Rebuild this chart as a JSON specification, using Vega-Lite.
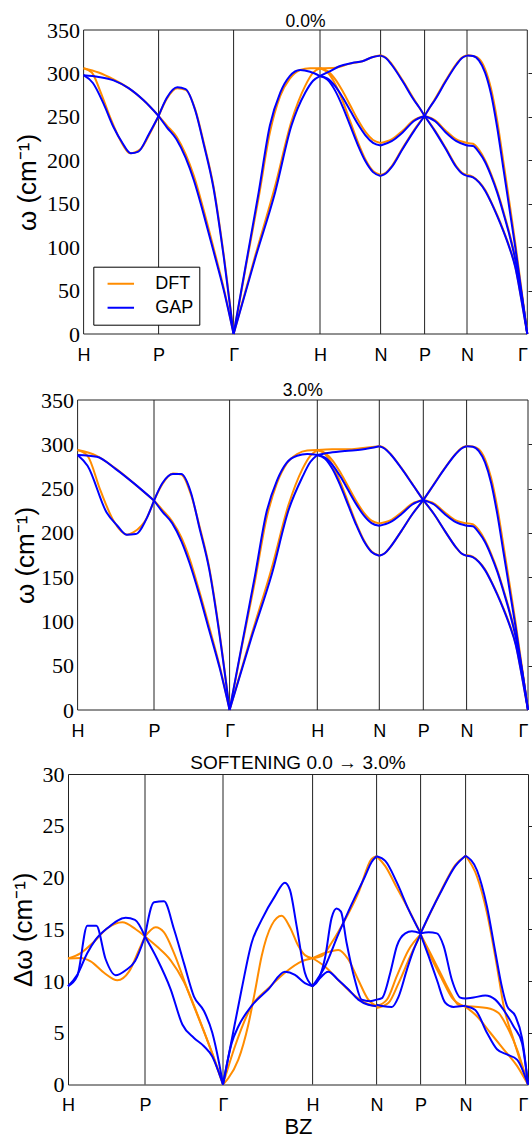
{
"$schema":"https://vega.github.io/schema/vega-lite/v6.json",
"padding":{"left":9,"top":12,"right":0,"bottom":0},
"background":"white",
"config":{"view":{"stroke":"#222","strokeWidth":1},"font":"Liberation Sans","axis":{"grid":false,"domain":false,"ticks":false,"tickSize":0,"labelColor":"#000","titleColor":"#000"}},
"datasets":{
"a":[
{"m":"DFT","c":1,"u":0,"w":306},{"m":"DFT","c":1,"u":0.2,"w":301},{"m":"DFT","c":1,"u":0.4,"w":293},{"m":"DFT","c":1,"u":0.6,"w":283},{"m":"DFT","c":1,"u":0.8,"w":269},{"m":"DFT","c":1,"u":1,"w":251},
{"m":"DFT","c":2,"u":0,"w":306},{"m":"DFT","c":2,"u":0.11,"w":301},{"m":"DFT","c":2,"u":0.22,"w":280},{"m":"DFT","c":2,"u":0.356,"w":249},{"m":"DFT","c":2,"u":0.49,"w":223},{"m":"DFT","c":2,"u":0.62,"w":208},{"m":"DFT","c":2,"u":0.76,"w":213},{"m":"DFT","c":2,"u":0.89,"w":232},{"m":"DFT","c":2,"u":1,"w":251},
{"m":"DFT","c":3,"u":1,"w":251},{"m":"DFT","c":3,"u":1.11,"w":271},{"m":"DFT","c":3,"u":1.25,"w":283},{"m":"DFT","c":3,"u":1.36,"w":281},{"m":"DFT","c":3,"u":1.49,"w":258},{"m":"DFT","c":3,"u":1.6,"w":221},{"m":"DFT","c":3,"u":1.73,"w":171},{"m":"DFT","c":3,"u":1.87,"w":90},{"m":"DFT","c":3,"u":2,"w":0},
{"m":"DFT","c":4,"u":1,"w":251},{"m":"DFT","c":4,"u":1.11,"w":240},{"m":"DFT","c":4,"u":1.24,"w":227},{"m":"DFT","c":4,"u":1.36,"w":207},{"m":"DFT","c":4,"u":1.47,"w":182},{"m":"DFT","c":4,"u":1.6,"w":143},{"m":"DFT","c":4,"u":1.73,"w":100},{"m":"DFT","c":4,"u":1.87,"w":52},{"m":"DFT","c":4,"u":2,"w":0},
{"m":"DFT","c":5,"u":2,"w":0},{"m":"DFT","c":5,"u":2.135,"w":74},{"m":"DFT","c":5,"u":2.29,"w":157},{"m":"DFT","c":5,"u":2.42,"w":232},{"m":"DFT","c":5,"u":2.54,"w":274},{"m":"DFT","c":5,"u":2.65,"w":294},{"m":"DFT","c":5,"u":2.77,"w":304},{"m":"DFT","c":5,"u":2.885,"w":306},{"m":"DFT","c":5,"u":3,"w":306},
{"m":"DFT","c":6,"u":2,"w":0},{"m":"DFT","c":6,"u":2.25,"w":90},{"m":"DFT","c":6,"u":2.48,"w":170},{"m":"DFT","c":6,"u":2.67,"w":245},{"m":"DFT","c":6,"u":2.83,"w":286},{"m":"DFT","c":6,"u":2.92,"w":301},{"m":"DFT","c":6,"u":3,"w":306},
{"m":"DFT","c":7,"u":3,"w":306},{"m":"DFT","c":7,"u":3.26,"w":306.6},{"m":"DFT","c":7,"u":3.48,"w":311},{"m":"DFT","c":7,"u":3.7,"w":314},{"m":"DFT","c":7,"u":3.86,"w":318.6},{"m":"DFT","c":7,"u":4,"w":321},
{"m":"DFT","c":8,"u":3,"w":306},{"m":"DFT","c":8,"u":3.125,"w":302.7},{"m":"DFT","c":8,"u":3.25,"w":293.4},{"m":"DFT","c":8,"u":3.375,"w":279.4},{"m":"DFT","c":8,"u":3.5,"w":263},{"m":"DFT","c":8,"u":3.625,"w":246.6},{"m":"DFT","c":8,"u":3.75,"w":232.6},{"m":"DFT","c":8,"u":3.875,"w":223.3},{"m":"DFT","c":8,"u":4,"w":220},
{"m":"DFT","c":9,"u":3,"w":306},{"m":"DFT","c":9,"u":3.125,"w":301.3},{"m":"DFT","c":9,"u":3.25,"w":288},{"m":"DFT","c":9,"u":3.375,"w":268},{"m":"DFT","c":9,"u":3.5,"w":244.5},{"m":"DFT","c":9,"u":3.625,"w":221},{"m":"DFT","c":9,"u":3.75,"w":201},{"m":"DFT","c":9,"u":3.875,"w":187.7},{"m":"DFT","c":9,"u":4,"w":183},
{"m":"DFT","c":10,"u":4,"w":321},{"m":"DFT","c":10,"u":4.125,"w":318},{"m":"DFT","c":10,"u":4.25,"w":311},{"m":"DFT","c":10,"u":4.5,"w":292},{"m":"DFT","c":10,"u":4.75,"w":271},{"m":"DFT","c":10,"u":4.875,"w":261},{"m":"DFT","c":10,"u":5,"w":251},
{"m":"DFT","c":11,"u":4,"w":220},{"m":"DFT","c":11,"u":4.25,"w":224},{"m":"DFT","c":11,"u":4.5,"w":234},{"m":"DFT","c":11,"u":4.75,"w":246},{"m":"DFT","c":11,"u":5,"w":251},
{"m":"DFT","c":12,"u":4,"w":183},{"m":"DFT","c":12,"u":4.125,"w":186},{"m":"DFT","c":12,"u":4.25,"w":193},{"m":"DFT","c":12,"u":4.5,"w":214},{"m":"DFT","c":12,"u":4.75,"w":234},{"m":"DFT","c":12,"u":5,"w":251},
{"m":"DFT","c":13,"u":5,"w":251},{"m":"DFT","c":13,"u":5.125,"w":261},{"m":"DFT","c":13,"u":5.25,"w":271},{"m":"DFT","c":13,"u":5.5,"w":292},{"m":"DFT","c":13,"u":5.75,"w":311},{"m":"DFT","c":13,"u":5.875,"w":318},{"m":"DFT","c":13,"u":6,"w":321},
{"m":"DFT","c":14,"u":5,"w":251},{"m":"DFT","c":14,"u":5.25,"w":246},{"m":"DFT","c":14,"u":5.5,"w":234},{"m":"DFT","c":14,"u":5.75,"w":224},{"m":"DFT","c":14,"u":6,"w":220},
{"m":"DFT","c":15,"u":5,"w":251},{"m":"DFT","c":15,"u":5.25,"w":234},{"m":"DFT","c":15,"u":5.5,"w":214},{"m":"DFT","c":15,"u":5.75,"w":193},{"m":"DFT","c":15,"u":5.875,"w":186},{"m":"DFT","c":15,"u":6,"w":183},
{"m":"DFT","c":16,"u":6,"w":321},{"m":"DFT","c":16,"u":6.1,"w":320},{"m":"DFT","c":16,"u":6.2,"w":317},{"m":"DFT","c":16,"u":6.3,"w":305},{"m":"DFT","c":16,"u":6.4,"w":282},{"m":"DFT","c":16,"u":6.5,"w":246},{"m":"DFT","c":16,"u":6.6,"w":200},{"m":"DFT","c":16,"u":6.7,"w":153},{"m":"DFT","c":16,"u":6.8,"w":105},{"m":"DFT","c":16,"u":6.9,"w":53},{"m":"DFT","c":16,"u":7,"w":0},
{"m":"DFT","c":17,"u":6,"w":220},{"m":"DFT","c":17,"u":6.1,"w":219},{"m":"DFT","c":17,"u":6.2,"w":212},{"m":"DFT","c":17,"u":6.3,"w":200},{"m":"DFT","c":17,"u":6.4,"w":184},{"m":"DFT","c":17,"u":6.5,"w":165},{"m":"DFT","c":17,"u":6.6,"w":142},{"m":"DFT","c":17,"u":6.7,"w":117},{"m":"DFT","c":17,"u":6.8,"w":88},{"m":"DFT","c":17,"u":6.9,"w":49},{"m":"DFT","c":17,"u":7,"w":0},
{"m":"DFT","c":18,"u":6,"w":183},{"m":"DFT","c":18,"u":6.1,"w":181},{"m":"DFT","c":18,"u":6.2,"w":175},{"m":"DFT","c":18,"u":6.3,"w":166},{"m":"DFT","c":18,"u":6.4,"w":152},{"m":"DFT","c":18,"u":6.5,"w":137},{"m":"DFT","c":18,"u":6.6,"w":120},{"m":"DFT","c":18,"u":6.7,"w":101},{"m":"DFT","c":18,"u":6.8,"w":78},{"m":"DFT","c":18,"u":6.9,"w":41},{"m":"DFT","c":18,"u":7,"w":0},
{"m":"GAP","c":1,"u":0,"w":298},{"m":"GAP","c":1,"u":0.2,"w":296},{"m":"GAP","c":1,"u":0.4,"w":292},{"m":"GAP","c":1,"u":0.6,"w":283},{"m":"GAP","c":1,"u":0.8,"w":269},{"m":"GAP","c":1,"u":1,"w":251},
{"m":"GAP","c":2,"u":0,"w":298},{"m":"GAP","c":2,"u":0.124,"w":289},{"m":"GAP","c":2,"u":0.267,"w":265},{"m":"GAP","c":2,"u":0.4,"w":238},{"m":"GAP","c":2,"u":0.51,"w":221},{"m":"GAP","c":2,"u":0.63,"w":208},{"m":"GAP","c":2,"u":0.73,"w":210},{"m":"GAP","c":2,"u":0.87,"w":230},{"m":"GAP","c":2,"u":1,"w":251},
{"m":"GAP","c":3,"u":1,"w":251},{"m":"GAP","c":3,"u":1.11,"w":272},{"m":"GAP","c":3,"u":1.25,"w":284},{"m":"GAP","c":3,"u":1.36,"w":282},{"m":"GAP","c":3,"u":1.49,"w":257},{"m":"GAP","c":3,"u":1.6,"w":219},{"m":"GAP","c":3,"u":1.73,"w":169},{"m":"GAP","c":3,"u":1.87,"w":88},{"m":"GAP","c":3,"u":2,"w":0},
{"m":"GAP","c":4,"u":1,"w":251},{"m":"GAP","c":4,"u":1.11,"w":238},{"m":"GAP","c":4,"u":1.24,"w":224},{"m":"GAP","c":4,"u":1.36,"w":203},{"m":"GAP","c":4,"u":1.47,"w":177},{"m":"GAP","c":4,"u":1.6,"w":138},{"m":"GAP","c":4,"u":1.73,"w":96},{"m":"GAP","c":4,"u":1.87,"w":50},{"m":"GAP","c":4,"u":2,"w":0},
{"m":"GAP","c":5,"u":2,"w":0},{"m":"GAP","c":5,"u":2.135,"w":76},{"m":"GAP","c":5,"u":2.29,"w":163},{"m":"GAP","c":5,"u":2.42,"w":240},{"m":"GAP","c":5,"u":2.54,"w":278},{"m":"GAP","c":5,"u":2.65,"w":297},{"m":"GAP","c":5,"u":2.77,"w":304},{"m":"GAP","c":5,"u":2.885,"w":302},{"m":"GAP","c":5,"u":3,"w":297},
{"m":"GAP","c":6,"u":2,"w":0},{"m":"GAP","c":6,"u":2.25,"w":87},{"m":"GAP","c":6,"u":2.48,"w":163},{"m":"GAP","c":6,"u":2.67,"w":240},{"m":"GAP","c":6,"u":2.83,"w":278},{"m":"GAP","c":6,"u":2.92,"w":291.6},{"m":"GAP","c":6,"u":3,"w":297},
{"m":"GAP","c":7,"u":3,"w":297},{"m":"GAP","c":7,"u":3.15,"w":302},{"m":"GAP","c":7,"u":3.31,"w":308},{"m":"GAP","c":7,"u":3.53,"w":312},{"m":"GAP","c":7,"u":3.7,"w":314},{"m":"GAP","c":7,"u":3.86,"w":318.6},{"m":"GAP","c":7,"u":4,"w":320.5},
{"m":"GAP","c":8,"u":3,"w":297},{"m":"GAP","c":8,"u":3.125,"w":294},{"m":"GAP","c":8,"u":3.25,"w":285.3},{"m":"GAP","c":8,"u":3.375,"w":272.3},{"m":"GAP","c":8,"u":3.5,"w":257},{"m":"GAP","c":8,"u":3.625,"w":241.7},{"m":"GAP","c":8,"u":3.75,"w":228.7},{"m":"GAP","c":8,"u":3.875,"w":220},{"m":"GAP","c":8,"u":4,"w":217},
{"m":"GAP","c":9,"u":3,"w":297},{"m":"GAP","c":9,"u":3.125,"w":292.6},{"m":"GAP","c":9,"u":3.25,"w":280.2},{"m":"GAP","c":9,"u":3.375,"w":261.5},{"m":"GAP","c":9,"u":3.5,"w":239.5},{"m":"GAP","c":9,"u":3.625,"w":217.5},{"m":"GAP","c":9,"u":3.75,"w":198.8},{"m":"GAP","c":9,"u":3.875,"w":186.4},{"m":"GAP","c":9,"u":4,"w":182},
{"m":"GAP","c":10,"u":4,"w":320.5},{"m":"GAP","c":10,"u":4.125,"w":317.5},{"m":"GAP","c":10,"u":4.25,"w":310},{"m":"GAP","c":10,"u":4.5,"w":291},{"m":"GAP","c":10,"u":4.75,"w":270},{"m":"GAP","c":10,"u":4.875,"w":261},{"m":"GAP","c":10,"u":5,"w":251},
{"m":"GAP","c":11,"u":4,"w":217},{"m":"GAP","c":11,"u":4.25,"w":222},{"m":"GAP","c":11,"u":4.5,"w":232},{"m":"GAP","c":11,"u":4.75,"w":245},{"m":"GAP","c":11,"u":5,"w":251},
{"m":"GAP","c":12,"u":4,"w":182},{"m":"GAP","c":12,"u":4.125,"w":185},{"m":"GAP","c":12,"u":4.25,"w":192},{"m":"GAP","c":12,"u":4.5,"w":213},{"m":"GAP","c":12,"u":4.75,"w":233},{"m":"GAP","c":12,"u":5,"w":251},
{"m":"GAP","c":13,"u":5,"w":251},{"m":"GAP","c":13,"u":5.125,"w":261},{"m":"GAP","c":13,"u":5.25,"w":270},{"m":"GAP","c":13,"u":5.5,"w":291},{"m":"GAP","c":13,"u":5.75,"w":310},{"m":"GAP","c":13,"u":5.875,"w":317.5},{"m":"GAP","c":13,"u":6,"w":320.5},
{"m":"GAP","c":14,"u":5,"w":251},{"m":"GAP","c":14,"u":5.25,"w":245},{"m":"GAP","c":14,"u":5.5,"w":232},{"m":"GAP","c":14,"u":5.75,"w":222},{"m":"GAP","c":14,"u":6,"w":217},
{"m":"GAP","c":15,"u":5,"w":251},{"m":"GAP","c":15,"u":5.25,"w":233},{"m":"GAP","c":15,"u":5.5,"w":213},{"m":"GAP","c":15,"u":5.75,"w":192},{"m":"GAP","c":15,"u":5.875,"w":185},{"m":"GAP","c":15,"u":6,"w":182},
{"m":"GAP","c":16,"u":6,"w":320.5},{"m":"GAP","c":16,"u":6.1,"w":320},{"m":"GAP","c":16,"u":6.2,"w":314.7},{"m":"GAP","c":16,"u":6.3,"w":301},{"m":"GAP","c":16,"u":6.4,"w":276},{"m":"GAP","c":16,"u":6.5,"w":238},{"m":"GAP","c":16,"u":6.6,"w":192},{"m":"GAP","c":16,"u":6.7,"w":146},{"m":"GAP","c":16,"u":6.8,"w":100},{"m":"GAP","c":16,"u":6.9,"w":50},{"m":"GAP","c":16,"u":7,"w":0},
{"m":"GAP","c":17,"u":6,"w":217},{"m":"GAP","c":17,"u":6.1,"w":216.5},{"m":"GAP","c":17,"u":6.2,"w":209},{"m":"GAP","c":17,"u":6.3,"w":198},{"m":"GAP","c":17,"u":6.4,"w":182},{"m":"GAP","c":17,"u":6.5,"w":163},{"m":"GAP","c":17,"u":6.6,"w":140},{"m":"GAP","c":17,"u":6.7,"w":115},{"m":"GAP","c":17,"u":6.8,"w":86},{"m":"GAP","c":17,"u":6.9,"w":48},{"m":"GAP","c":17,"u":7,"w":0},
{"m":"GAP","c":18,"u":6,"w":182},{"m":"GAP","c":18,"u":6.1,"w":180.4},{"m":"GAP","c":18,"u":6.2,"w":174.6},{"m":"GAP","c":18,"u":6.3,"w":165},{"m":"GAP","c":18,"u":6.4,"w":151.6},{"m":"GAP","c":18,"u":6.5,"w":136},{"m":"GAP","c":18,"u":6.6,"w":119},{"m":"GAP","c":18,"u":6.7,"w":100},{"m":"GAP","c":18,"u":6.8,"w":77},{"m":"GAP","c":18,"u":6.9,"w":40},{"m":"GAP","c":18,"u":7,"w":0}
],
"b":[
{"m":"DFT","c":1,"u":0,"w":293.5},{"m":"DFT","c":1,"u":0.25,"w":287},{"m":"DFT","c":1,"u":0.5,"w":272.5},{"m":"DFT","c":1,"u":0.75,"w":255},{"m":"DFT","c":1,"u":1,"w":236.5},
{"m":"DFT","c":2,"u":0,"w":293.5},{"m":"DFT","c":2,"u":0.13,"w":287},{"m":"DFT","c":2,"u":0.3,"w":247.6},{"m":"DFT","c":2,"u":0.47,"w":213.7},{"m":"DFT","c":2,"u":0.65,"w":198},{"m":"DFT","c":2,"u":0.73,"w":200.6},{"m":"DFT","c":2,"u":0.91,"w":217.5},{"m":"DFT","c":2,"u":1,"w":236.5},
{"m":"DFT","c":3,"u":1,"w":236.5},{"m":"DFT","c":3,"u":1.11,"w":255},{"m":"DFT","c":3,"u":1.25,"w":267},{"m":"DFT","c":3,"u":1.36,"w":266},{"m":"DFT","c":3,"u":1.49,"w":243},{"m":"DFT","c":3,"u":1.6,"w":208},{"m":"DFT","c":3,"u":1.73,"w":161},{"m":"DFT","c":3,"u":1.87,"w":85},{"m":"DFT","c":3,"u":2,"w":0},
{"m":"DFT","c":4,"u":1,"w":236.5},{"m":"DFT","c":4,"u":1.11,"w":226},{"m":"DFT","c":4,"u":1.24,"w":213},{"m":"DFT","c":4,"u":1.36,"w":195},{"m":"DFT","c":4,"u":1.47,"w":171},{"m":"DFT","c":4,"u":1.6,"w":134},{"m":"DFT","c":4,"u":1.73,"w":94},{"m":"DFT","c":4,"u":1.87,"w":49},{"m":"DFT","c":4,"u":2,"w":0},
{"m":"DFT","c":5,"u":2,"w":0},{"m":"DFT","c":5,"u":2.135,"w":69},{"m":"DFT","c":5,"u":2.29,"w":146},{"m":"DFT","c":5,"u":2.42,"w":216},{"m":"DFT","c":5,"u":2.54,"w":256},{"m":"DFT","c":5,"u":2.65,"w":278},{"m":"DFT","c":5,"u":2.77,"w":289},{"m":"DFT","c":5,"u":2.885,"w":293},{"m":"DFT","c":5,"u":3,"w":293.5},
{"m":"DFT","c":6,"u":2,"w":0},{"m":"DFT","c":6,"u":2.25,"w":85},{"m":"DFT","c":6,"u":2.48,"w":160},{"m":"DFT","c":6,"u":2.67,"w":231},{"m":"DFT","c":6,"u":2.83,"w":272},{"m":"DFT","c":6,"u":2.92,"w":287},{"m":"DFT","c":6,"u":3,"w":293.5},
{"m":"DFT","c":7,"u":3,"w":293.5},{"m":"DFT","c":7,"u":3.24,"w":294.3},{"m":"DFT","c":7,"u":3.5,"w":294.3},{"m":"DFT","c":7,"u":3.7,"w":295.6},{"m":"DFT","c":7,"u":4,"w":297.7},
{"m":"DFT","c":8,"u":3,"w":293.5},{"m":"DFT","c":8,"u":3.125,"w":290.2},{"m":"DFT","c":8,"u":3.25,"w":281.4},{"m":"DFT","c":8,"u":3.375,"w":267.9},{"m":"DFT","c":8,"u":3.5,"w":252.1},{"m":"DFT","c":8,"u":3.625,"w":236.3},{"m":"DFT","c":8,"u":3.75,"w":222.8},{"m":"DFT","c":8,"u":3.875,"w":213.8},{"m":"DFT","c":8,"u":4,"w":210.7},
{"m":"DFT","c":9,"u":3,"w":293.5},{"m":"DFT","c":9,"u":3.125,"w":289},{"m":"DFT","c":9,"u":3.25,"w":276.1},{"m":"DFT","c":9,"u":3.375,"w":256.7},{"m":"DFT","c":9,"u":3.5,"w":234},{"m":"DFT","c":9,"u":3.625,"w":211.3},{"m":"DFT","c":9,"u":3.75,"w":191.9},{"m":"DFT","c":9,"u":3.875,"w":179},{"m":"DFT","c":9,"u":4,"w":174.5},
{"m":"DFT","c":10,"u":4,"w":298},{"m":"DFT","c":10,"u":4.125,"w":295.5},{"m":"DFT","c":10,"u":4.25,"w":289.5},{"m":"DFT","c":10,"u":4.5,"w":273.5},{"m":"DFT","c":10,"u":4.75,"w":255.5},{"m":"DFT","c":10,"u":4.875,"w":246},{"m":"DFT","c":10,"u":5,"w":237},
{"m":"DFT","c":11,"u":4,"w":210.7},{"m":"DFT","c":11,"u":4.25,"w":214},{"m":"DFT","c":11,"u":4.5,"w":223},{"m":"DFT","c":11,"u":4.75,"w":233},{"m":"DFT","c":11,"u":5,"w":237},
{"m":"DFT","c":12,"u":4,"w":174.5},{"m":"DFT","c":12,"u":4.125,"w":177},{"m":"DFT","c":12,"u":4.25,"w":184},{"m":"DFT","c":12,"u":4.5,"w":202},{"m":"DFT","c":12,"u":4.75,"w":221},{"m":"DFT","c":12,"u":5,"w":237},
{"m":"DFT","c":13,"u":5,"w":237},{"m":"DFT","c":13,"u":5.125,"w":246},{"m":"DFT","c":13,"u":5.25,"w":255.5},{"m":"DFT","c":13,"u":5.5,"w":273.5},{"m":"DFT","c":13,"u":5.75,"w":289.5},{"m":"DFT","c":13,"u":5.875,"w":295.5},{"m":"DFT","c":13,"u":6,"w":298},
{"m":"DFT","c":14,"u":5,"w":237},{"m":"DFT","c":14,"u":5.25,"w":233},{"m":"DFT","c":14,"u":5.5,"w":223},{"m":"DFT","c":14,"u":5.75,"w":214},{"m":"DFT","c":14,"u":6,"w":210.7},
{"m":"DFT","c":15,"u":5,"w":237},{"m":"DFT","c":15,"u":5.25,"w":221},{"m":"DFT","c":15,"u":5.5,"w":202},{"m":"DFT","c":15,"u":5.75,"w":184},{"m":"DFT","c":15,"u":5.875,"w":177},{"m":"DFT","c":15,"u":6,"w":174.5},
{"m":"DFT","c":16,"u":6,"w":298.2},{"m":"DFT","c":16,"u":6.1,"w":297.5},{"m":"DFT","c":16,"u":6.2,"w":294.5},{"m":"DFT","c":16,"u":6.3,"w":283.3},{"m":"DFT","c":16,"u":6.4,"w":262},{"m":"DFT","c":16,"u":6.5,"w":228.5},{"m":"DFT","c":16,"u":6.6,"w":185.8},{"m":"DFT","c":16,"u":6.7,"w":142.1},{"m":"DFT","c":16,"u":6.8,"w":97.5},{"m":"DFT","c":16,"u":6.9,"w":49.2},{"m":"DFT","c":16,"u":7,"w":0},
{"m":"DFT","c":17,"u":6,"w":210.8},{"m":"DFT","c":17,"u":6.1,"w":209.8},{"m":"DFT","c":17,"u":6.2,"w":203.1},{"m":"DFT","c":17,"u":6.3,"w":191.6},{"m":"DFT","c":17,"u":6.4,"w":176.3},{"m":"DFT","c":17,"u":6.5,"w":158.1},{"m":"DFT","c":17,"u":6.6,"w":136},{"m":"DFT","c":17,"u":6.7,"w":112.1},{"m":"DFT","c":17,"u":6.8,"w":84.3},{"m":"DFT","c":17,"u":6.9,"w":46.9},{"m":"DFT","c":17,"u":7,"w":0},
{"m":"DFT","c":18,"u":6,"w":175.1},{"m":"DFT","c":18,"u":6.1,"w":173.2},{"m":"DFT","c":18,"u":6.2,"w":167.5},{"m":"DFT","c":18,"u":6.3,"w":158.9},{"m":"DFT","c":18,"u":6.4,"w":145.5},{"m":"DFT","c":18,"u":6.5,"w":131.1},{"m":"DFT","c":18,"u":6.6,"w":114.8},{"m":"DFT","c":18,"u":6.7,"w":96.7},{"m":"DFT","c":18,"u":6.8,"w":74.6},{"m":"DFT","c":18,"u":6.9,"w":39.2},{"m":"DFT","c":18,"u":7,"w":0},
{"m":"GAP","c":1,"u":0,"w":288},{"m":"GAP","c":1,"u":0.25,"w":286},{"m":"GAP","c":1,"u":0.5,"w":272},{"m":"GAP","c":1,"u":0.75,"w":255},{"m":"GAP","c":1,"u":1,"w":236.5},
{"m":"GAP","c":2,"u":0,"w":288},{"m":"GAP","c":2,"u":0.13,"w":275.8},{"m":"GAP","c":2,"u":0.38,"w":223},{"m":"GAP","c":2,"u":0.52,"w":208},{"m":"GAP","c":2,"u":0.64,"w":198},{"m":"GAP","c":2,"u":0.76,"w":198.6},{"m":"GAP","c":2,"u":0.91,"w":217.5},{"m":"GAP","c":2,"u":1,"w":236.5},
{"m":"GAP","c":3,"u":1,"w":236.5},{"m":"GAP","c":3,"u":1.11,"w":256},{"m":"GAP","c":3,"u":1.25,"w":266.4},{"m":"GAP","c":3,"u":1.36,"w":266.4},{"m":"GAP","c":3,"u":1.49,"w":245},{"m":"GAP","c":3,"u":1.6,"w":206},{"m":"GAP","c":3,"u":1.73,"w":159},{"m":"GAP","c":3,"u":1.87,"w":83},{"m":"GAP","c":3,"u":2,"w":0},
{"m":"GAP","c":4,"u":1,"w":236.5},{"m":"GAP","c":4,"u":1.11,"w":224},{"m":"GAP","c":4,"u":1.24,"w":211},{"m":"GAP","c":4,"u":1.36,"w":191},{"m":"GAP","c":4,"u":1.47,"w":166},{"m":"GAP","c":4,"u":1.6,"w":130},{"m":"GAP","c":4,"u":1.73,"w":90},{"m":"GAP","c":4,"u":1.87,"w":47},{"m":"GAP","c":4,"u":2,"w":0},
{"m":"GAP","c":5,"u":2,"w":0},{"m":"GAP","c":5,"u":2.135,"w":71},{"m":"GAP","c":5,"u":2.29,"w":152},{"m":"GAP","c":5,"u":2.42,"w":223},{"m":"GAP","c":5,"u":2.54,"w":259},{"m":"GAP","c":5,"u":2.65,"w":279},{"m":"GAP","c":5,"u":2.77,"w":287},{"m":"GAP","c":5,"u":2.885,"w":289},{"m":"GAP","c":5,"u":3,"w":288},
{"m":"GAP","c":6,"u":2,"w":0},{"m":"GAP","c":6,"u":2.25,"w":82},{"m":"GAP","c":6,"u":2.48,"w":153},{"m":"GAP","c":6,"u":2.67,"w":225},{"m":"GAP","c":6,"u":2.83,"w":263},{"m":"GAP","c":6,"u":2.92,"w":280},{"m":"GAP","c":6,"u":3,"w":288},
{"m":"GAP","c":7,"u":3,"w":288},{"m":"GAP","c":7,"u":3.2,"w":290.5},{"m":"GAP","c":7,"u":3.45,"w":292.5},{"m":"GAP","c":7,"u":3.72,"w":294},{"m":"GAP","c":7,"u":4,"w":297.7},
{"m":"GAP","c":8,"u":3,"w":288},{"m":"GAP","c":8,"u":3.125,"w":285},{"m":"GAP","c":8,"u":3.25,"w":276.3},{"m":"GAP","c":8,"u":3.375,"w":263.3},{"m":"GAP","c":8,"u":3.5,"w":248},{"m":"GAP","c":8,"u":3.625,"w":232.7},{"m":"GAP","c":8,"u":3.75,"w":219.7},{"m":"GAP","c":8,"u":3.875,"w":211},{"m":"GAP","c":8,"u":4,"w":208},
{"m":"GAP","c":9,"u":3,"w":288},{"m":"GAP","c":9,"u":3.125,"w":283.7},{"m":"GAP","c":9,"u":3.25,"w":271.4},{"m":"GAP","c":9,"u":3.375,"w":252.8},{"m":"GAP","c":9,"u":3.5,"w":231.1},{"m":"GAP","c":9,"u":3.625,"w":209.4},{"m":"GAP","c":9,"u":3.75,"w":190.8},{"m":"GAP","c":9,"u":3.875,"w":178.5},{"m":"GAP","c":9,"u":4,"w":174.2},
{"m":"GAP","c":10,"u":4,"w":297.7},{"m":"GAP","c":10,"u":4.125,"w":295},{"m":"GAP","c":10,"u":4.25,"w":289},{"m":"GAP","c":10,"u":4.5,"w":273},{"m":"GAP","c":10,"u":4.75,"w":255},{"m":"GAP","c":10,"u":4.875,"w":246},{"m":"GAP","c":10,"u":5,"w":237},
{"m":"GAP","c":11,"u":4,"w":208},{"m":"GAP","c":11,"u":4.25,"w":212},{"m":"GAP","c":11,"u":4.5,"w":221},{"m":"GAP","c":11,"u":4.75,"w":232},{"m":"GAP","c":11,"u":5,"w":237},
{"m":"GAP","c":12,"u":4,"w":174.2},{"m":"GAP","c":12,"u":4.125,"w":177},{"m":"GAP","c":12,"u":4.25,"w":184},{"m":"GAP","c":12,"u":4.5,"w":202},{"m":"GAP","c":12,"u":4.75,"w":221},{"m":"GAP","c":12,"u":5,"w":237},
{"m":"GAP","c":13,"u":5,"w":237},{"m":"GAP","c":13,"u":5.125,"w":246},{"m":"GAP","c":13,"u":5.25,"w":255},{"m":"GAP","c":13,"u":5.5,"w":273},{"m":"GAP","c":13,"u":5.75,"w":289},{"m":"GAP","c":13,"u":5.875,"w":295},{"m":"GAP","c":13,"u":6,"w":297.7},
{"m":"GAP","c":14,"u":5,"w":237},{"m":"GAP","c":14,"u":5.25,"w":232},{"m":"GAP","c":14,"u":5.5,"w":221},{"m":"GAP","c":14,"u":5.75,"w":212},{"m":"GAP","c":14,"u":6,"w":208},
{"m":"GAP","c":15,"u":5,"w":237},{"m":"GAP","c":15,"u":5.25,"w":221},{"m":"GAP","c":15,"u":5.5,"w":202},{"m":"GAP","c":15,"u":5.75,"w":184},{"m":"GAP","c":15,"u":5.875,"w":177},{"m":"GAP","c":15,"u":6,"w":174.2},
{"m":"GAP","c":16,"u":6,"w":297.7},{"m":"GAP","c":16,"u":6.1,"w":297.3},{"m":"GAP","c":16,"u":6.2,"w":292.4},{"m":"GAP","c":16,"u":6.3,"w":279.6},{"m":"GAP","c":16,"u":6.4,"w":256.4},{"m":"GAP","c":16,"u":6.5,"w":221.1},{"m":"GAP","c":16,"u":6.6,"w":178.4},{"m":"GAP","c":16,"u":6.7,"w":135.6},{"m":"GAP","c":16,"u":6.8,"w":92.9},{"m":"GAP","c":16,"u":6.9,"w":46.5},{"m":"GAP","c":16,"u":7,"w":0},
{"m":"GAP","c":17,"u":6,"w":208},{"m":"GAP","c":17,"u":6.1,"w":207.4},{"m":"GAP","c":17,"u":6.2,"w":200.2},{"m":"GAP","c":17,"u":6.3,"w":189.7},{"m":"GAP","c":17,"u":6.4,"w":174.4},{"m":"GAP","c":17,"u":6.5,"w":156.2},{"m":"GAP","c":17,"u":6.6,"w":134.1},{"m":"GAP","c":17,"u":6.7,"w":110.2},{"m":"GAP","c":17,"u":6.8,"w":82.4},{"m":"GAP","c":17,"u":6.9,"w":46},{"m":"GAP","c":17,"u":7,"w":0},
{"m":"GAP","c":18,"u":6,"w":174.2},{"m":"GAP","c":18,"u":6.1,"w":172.6},{"m":"GAP","c":18,"u":6.2,"w":167.1},{"m":"GAP","c":18,"u":6.3,"w":157.9},{"m":"GAP","c":18,"u":6.4,"w":145.1},{"m":"GAP","c":18,"u":6.5,"w":130.2},{"m":"GAP","c":18,"u":6.6,"w":113.9},{"m":"GAP","c":18,"u":6.7,"w":95.7},{"m":"GAP","c":18,"u":6.8,"w":73.7},{"m":"GAP","c":18,"u":6.9,"w":38.3},{"m":"GAP","c":18,"u":7,"w":0}
],
"c":[
{"m":"DFT","c":1,"u":0,"w":12.17},{"m":"DFT","c":1,"u":0.165,"w":12.23},{"m":"DFT","c":1,"u":0.294,"w":11.9},{"m":"DFT","c":1,"u":0.468,"w":10.8},{"m":"DFT","c":1,"u":0.641,"w":10.07},{"m":"DFT","c":1,"u":0.792,"w":10.9},{"m":"DFT","c":1,"u":0.922,"w":13.0},{"m":"DFT","c":1,"u":1,"w":14.3},
{"m":"DFT","c":2,"u":0,"w":12.17},{"m":"DFT","c":2,"u":0.165,"w":12.7},{"m":"DFT","c":2,"u":0.338,"w":13.8},{"m":"DFT","c":2,"u":0.511,"w":15.1},{"m":"DFT","c":2,"u":0.706,"w":15.67},{"m":"DFT","c":2,"u":0.879,"w":15.0},{"m":"DFT","c":2,"u":1,"w":14.3},
{"m":"DFT","c":3,"u":1,"w":14.3},{"m":"DFT","c":3,"u":1.137,"w":15.2},{"m":"DFT","c":3,"u":1.244,"w":14.7},{"m":"DFT","c":3,"u":1.372,"w":12.7},{"m":"DFT","c":3,"u":1.543,"w":9.2},{"m":"DFT","c":3,"u":1.714,"w":5.9},{"m":"DFT","c":3,"u":1.863,"w":3.0},{"m":"DFT","c":3,"u":2,"w":0},
{"m":"DFT","c":4,"u":1,"w":14.3},{"m":"DFT","c":4,"u":1.158,"w":13.3},{"m":"DFT","c":4,"u":1.329,"w":12.0},{"m":"DFT","c":4,"u":1.5,"w":9.9},{"m":"DFT","c":4,"u":1.671,"w":6.8},{"m":"DFT","c":4,"u":1.842,"w":3.4},{"m":"DFT","c":4,"u":2,"w":0},
{"m":"DFT","c":5,"u":2,"w":0},{"m":"DFT","c":5,"u":2.059,"w":0.6},{"m":"DFT","c":5,"u":2.171,"w":2.4},{"m":"DFT","c":5,"u":2.283,"w":5.8},{"m":"DFT","c":5,"u":2.357,"w":9.0},{"m":"DFT","c":5,"u":2.431,"w":12.4},{"m":"DFT","c":5,"u":2.543,"w":15.4},{"m":"DFT","c":5,"u":2.654,"w":16.3},{"m":"DFT","c":5,"u":2.747,"w":15.2},{"m":"DFT","c":5,"u":2.84,"w":13.4},{"m":"DFT","c":5,"u":2.914,"w":12.5},{"m":"DFT","c":5,"u":3,"w":12.2},
{"m":"DFT","c":6,"u":2,"w":0},{"m":"DFT","c":6,"u":2.134,"w":3.7},{"m":"DFT","c":6,"u":2.32,"w":7.6},{"m":"DFT","c":6,"u":2.506,"w":9.3},{"m":"DFT","c":6,"u":2.691,"w":10.8},{"m":"DFT","c":6,"u":2.877,"w":11.9},{"m":"DFT","c":6,"u":3,"w":12.2},
{"m":"DFT","c":7,"u":3,"w":12.2},{"m":"DFT","c":7,"u":3.141,"w":12.4},{"m":"DFT","c":7,"u":3.297,"w":13.7},{"m":"DFT","c":7,"u":3.505,"w":15.9},{"m":"DFT","c":7,"u":3.714,"w":18.5},{"m":"DFT","c":7,"u":3.922,"w":21.8},{"m":"DFT","c":7,"u":4,"w":22.05},
{"m":"DFT","c":8,"u":3,"w":12.2},{"m":"DFT","c":8,"u":3.193,"w":12.7},{"m":"DFT","c":8,"u":3.401,"w":13.0},{"m":"DFT","c":8,"u":3.557,"w":12.1},{"m":"DFT","c":8,"u":3.714,"w":10.1},{"m":"DFT","c":8,"u":3.87,"w":8.2},{"m":"DFT","c":8,"u":4,"w":7.56},
{"m":"DFT","c":9,"u":3,"w":12.2},{"m":"DFT","c":9,"u":3.193,"w":11.4},{"m":"DFT","c":9,"u":3.401,"w":10.1},{"m":"DFT","c":9,"u":3.609,"w":8.85},{"m":"DFT","c":9,"u":3.818,"w":7.9},{"m":"DFT","c":9,"u":4,"w":7.56},
{"m":"DFT","c":10,"u":4,"w":22.05},{"m":"DFT","c":10,"u":4.197,"w":21.1},{"m":"DFT","c":10,"u":4.462,"w":19.0},{"m":"DFT","c":10,"u":4.765,"w":16.6},{"m":"DFT","c":10,"u":5,"w":14.6},
{"m":"DFT","c":11,"u":4,"w":7.56},{"m":"DFT","c":11,"u":4.235,"w":8.2},{"m":"DFT","c":11,"u":4.462,"w":10.5},{"m":"DFT","c":11,"u":4.727,"w":13.0},{"m":"DFT","c":11,"u":5,"w":14.5},
{"m":"DFT","c":12,"u":4,"w":7.4},{"m":"DFT","c":12,"u":4.273,"w":7.9},{"m":"DFT","c":12,"u":4.5,"w":9.8},{"m":"DFT","c":12,"u":4.765,"w":12.4},{"m":"DFT","c":12,"u":5,"w":14.5},
{"m":"DFT","c":13,"u":5,"w":14.6},{"m":"DFT","c":13,"u":5.252,"w":16.9},{"m":"DFT","c":13,"u":5.511,"w":19.2},{"m":"DFT","c":13,"u":5.77,"w":21.2},{"m":"DFT","c":13,"u":6,"w":22.1},
{"m":"DFT","c":14,"u":5,"w":14.5},{"m":"DFT","c":14,"u":5.215,"w":12.7},{"m":"DFT","c":14,"u":5.437,"w":10.8},{"m":"DFT","c":14,"u":5.659,"w":8.9},{"m":"DFT","c":14,"u":5.844,"w":7.7},{"m":"DFT","c":14,"u":6,"w":7.56},
{"m":"DFT","c":15,"u":5,"w":14.5},{"m":"DFT","c":15,"u":5.252,"w":12.1},{"m":"DFT","c":15,"u":5.474,"w":10.2},{"m":"DFT","c":15,"u":5.696,"w":8.4},{"m":"DFT","c":15,"u":6,"w":7.5},
{"m":"DFT","c":16,"u":6,"w":22.1},{"m":"DFT","c":16,"u":6.182,"w":20.1},{"m":"DFT","c":16,"u":6.342,"w":16.6},{"m":"DFT","c":16,"u":6.503,"w":11.4},{"m":"DFT","c":16,"u":6.61,"w":7.6},{"m":"DFT","c":16,"u":6.77,"w":4.3},{"m":"DFT","c":16,"u":7,"w":0},
{"m":"DFT","c":17,"u":6,"w":7.56},{"m":"DFT","c":17,"u":6.342,"w":7.4},{"m":"DFT","c":17,"u":6.529,"w":6.9},{"m":"DFT","c":17,"u":6.663,"w":5.6},{"m":"DFT","c":17,"u":6.824,"w":3.4},{"m":"DFT","c":17,"u":7,"w":0},
{"m":"DFT","c":18,"u":6,"w":7.5},{"m":"DFT","c":18,"u":6.182,"w":6.6},{"m":"DFT","c":18,"u":6.396,"w":5.0},{"m":"DFT","c":18,"u":6.61,"w":3.4},{"m":"DFT","c":18,"u":6.824,"w":1.8},{"m":"DFT","c":18,"u":7,"w":0},
{"m":"GAP","c":1,"u":0,"w":9.5},{"m":"GAP","c":1,"u":0.121,"w":10.5},{"m":"GAP","c":1,"u":0.251,"w":15.35},{"m":"GAP","c":1,"u":0.368,"w":15.35},{"m":"GAP","c":1,"u":0.489,"w":12.1},{"m":"GAP","c":1,"u":0.619,"w":10.56},{"m":"GAP","c":1,"u":0.749,"w":11.04},{"m":"GAP","c":1,"u":0.87,"w":11.9},{"m":"GAP","c":1,"u":1,"w":14.3},
{"m":"GAP","c":2,"u":0,"w":9.5},{"m":"GAP","c":2,"u":0.121,"w":10.6},{"m":"GAP","c":2,"u":0.251,"w":12.7},{"m":"GAP","c":2,"u":0.359,"w":14.0},{"m":"GAP","c":2,"u":0.511,"w":15.1},{"m":"GAP","c":2,"u":0.749,"w":16.1},{"m":"GAP","c":2,"u":0.87,"w":15.9},{"m":"GAP","c":2,"u":1,"w":14.3},
{"m":"GAP","c":3,"u":1,"w":14.3},{"m":"GAP","c":3,"u":1.115,"w":17.6},{"m":"GAP","c":3,"u":1.244,"w":17.7},{"m":"GAP","c":3,"u":1.372,"w":15.0},{"m":"GAP","c":3,"u":1.5,"w":11.7},{"m":"GAP","c":3,"u":1.628,"w":8.5},{"m":"GAP","c":3,"u":1.756,"w":7.1},{"m":"GAP","c":3,"u":1.863,"w":5.0},{"m":"GAP","c":3,"u":1.949,"w":2.1},{"m":"GAP","c":3,"u":2,"w":0},
{"m":"GAP","c":4,"u":1,"w":14.3},{"m":"GAP","c":4,"u":1.158,"w":12.1},{"m":"GAP","c":4,"u":1.329,"w":9.2},{"m":"GAP","c":4,"u":1.479,"w":5.8},{"m":"GAP","c":4,"u":1.628,"w":4.5},{"m":"GAP","c":4,"u":1.756,"w":3.7},{"m":"GAP","c":4,"u":1.863,"w":2.7},{"m":"GAP","c":4,"u":1.949,"w":1.1},{"m":"GAP","c":4,"u":2,"w":0},
{"m":"GAP","c":5,"u":2,"w":0},{"m":"GAP","c":5,"u":2.097,"w":4.3},{"m":"GAP","c":5,"u":2.208,"w":9.2},{"m":"GAP","c":5,"u":2.32,"w":13.7},{"m":"GAP","c":5,"u":2.431,"w":15.9},{"m":"GAP","c":5,"u":2.58,"w":18.2},{"m":"GAP","c":5,"u":2.691,"w":19.5},{"m":"GAP","c":5,"u":2.747,"w":18.8},{"m":"GAP","c":5,"u":2.822,"w":15.3},{"m":"GAP","c":5,"u":2.914,"w":10.8},{"m":"GAP","c":5,"u":3,"w":9.5},
{"m":"GAP","c":6,"u":2,"w":0},{"m":"GAP","c":6,"u":2.097,"w":4.0},{"m":"GAP","c":6,"u":2.171,"w":5.6},{"m":"GAP","c":6,"u":2.32,"w":7.6},{"m":"GAP","c":6,"u":2.506,"w":9.2},{"m":"GAP","c":6,"u":2.691,"w":10.9},{"m":"GAP","c":6,"u":2.803,"w":10.6},{"m":"GAP","c":6,"u":2.914,"w":9.8},{"m":"GAP","c":6,"u":3,"w":9.5},
{"m":"GAP","c":7,"u":3,"w":9.5},{"m":"GAP","c":7,"u":3.193,"w":11.4},{"m":"GAP","c":7,"u":3.401,"w":14.5},{"m":"GAP","c":7,"u":3.609,"w":17.4},{"m":"GAP","c":7,"u":3.818,"w":20.1},{"m":"GAP","c":7,"u":3.922,"w":21.5},{"m":"GAP","c":7,"u":4,"w":22.05},
{"m":"GAP","c":8,"u":3,"w":9.5},{"m":"GAP","c":8,"u":3.089,"w":10.1},{"m":"GAP","c":8,"u":3.193,"w":12.2},{"m":"GAP","c":8,"u":3.297,"w":16.1},{"m":"GAP","c":8,"u":3.375,"w":17.0},{"m":"GAP","c":8,"u":3.443,"w":16.7},{"m":"GAP","c":8,"u":3.531,"w":13.7},{"m":"GAP","c":8,"u":3.661,"w":10.1},{"m":"GAP","c":8,"u":3.766,"w":8.2},{"m":"GAP","c":8,"u":3.896,"w":8.05},{"m":"GAP","c":8,"u":4,"w":8.2},
{"m":"GAP","c":9,"u":3,"w":9.5},{"m":"GAP","c":9,"u":3.089,"w":10.1},{"m":"GAP","c":9,"u":3.245,"w":10.9},{"m":"GAP","c":9,"u":3.401,"w":10.1},{"m":"GAP","c":9,"u":3.557,"w":9.2},{"m":"GAP","c":9,"u":3.714,"w":8.2},{"m":"GAP","c":9,"u":3.87,"w":7.7},{"m":"GAP","c":9,"u":4,"w":7.56},
{"m":"GAP","c":10,"u":4,"w":22.05},{"m":"GAP","c":10,"u":4.197,"w":21.6},{"m":"GAP","c":10,"u":4.462,"w":19.5},{"m":"GAP","c":10,"u":4.727,"w":16.9},{"m":"GAP","c":10,"u":5,"w":14.6},
{"m":"GAP","c":11,"u":4,"w":8.2},{"m":"GAP","c":11,"u":4.121,"w":8.35},{"m":"GAP","c":11,"u":4.311,"w":10.8},{"m":"GAP","c":11,"u":4.462,"w":13.4},{"m":"GAP","c":11,"u":4.652,"w":14.6},{"m":"GAP","c":11,"u":4.803,"w":14.8},{"m":"GAP","c":11,"u":5,"w":14.6},
{"m":"GAP","c":12,"u":4,"w":7.7},{"m":"GAP","c":12,"u":4.159,"w":7.56},{"m":"GAP","c":12,"u":4.348,"w":7.5},{"m":"GAP","c":12,"u":4.5,"w":8.5},{"m":"GAP","c":12,"u":4.689,"w":11.1},{"m":"GAP","c":12,"u":4.841,"w":13.0},{"m":"GAP","c":12,"u":5,"w":14.5},
{"m":"GAP","c":13,"u":5,"w":14.6},{"m":"GAP","c":13,"u":5.215,"w":16.6},{"m":"GAP","c":13,"u":5.474,"w":18.8},{"m":"GAP","c":13,"u":5.77,"w":21.1},{"m":"GAP","c":13,"u":6,"w":22.1},
{"m":"GAP","c":14,"u":5,"w":14.6},{"m":"GAP","c":14,"u":5.178,"w":14.7},{"m":"GAP","c":14,"u":5.363,"w":14.6},{"m":"GAP","c":14,"u":5.511,"w":13.4},{"m":"GAP","c":14,"u":5.696,"w":10.1},{"m":"GAP","c":14,"u":5.881,"w":8.4},{"m":"GAP","c":14,"u":6,"w":8.3},
{"m":"GAP","c":15,"u":5,"w":14.5},{"m":"GAP","c":15,"u":5.178,"w":12.4},{"m":"GAP","c":15,"u":5.363,"w":10.1},{"m":"GAP","c":15,"u":5.548,"w":7.9},{"m":"GAP","c":15,"u":5.733,"w":7.5},{"m":"GAP","c":15,"u":5.881,"w":7.56},{"m":"GAP","c":15,"u":6,"w":7.6},
{"m":"GAP","c":16,"u":6,"w":22.1},{"m":"GAP","c":16,"u":6.182,"w":20.7},{"m":"GAP","c":16,"u":6.342,"w":17.2},{"m":"GAP","c":16,"u":6.476,"w":12.8},{"m":"GAP","c":16,"u":6.572,"w":9.7},{"m":"GAP","c":16,"u":6.663,"w":7.6},{"m":"GAP","c":16,"u":6.797,"w":6.6},{"m":"GAP","c":16,"u":6.904,"w":4.5},{"m":"GAP","c":16,"u":7,"w":0},
{"m":"GAP","c":17,"u":6,"w":8.3},{"m":"GAP","c":17,"u":6.128,"w":8.4},{"m":"GAP","c":17,"u":6.316,"w":8.6},{"m":"GAP","c":17,"u":6.476,"w":8.2},{"m":"GAP","c":17,"u":6.61,"w":7.2},{"m":"GAP","c":17,"u":6.77,"w":5.6},{"m":"GAP","c":17,"u":6.904,"w":4.0},{"m":"GAP","c":17,"u":7,"w":0},
{"m":"GAP","c":18,"u":6,"w":7.56},{"m":"GAP","c":18,"u":6.155,"w":7.2},{"m":"GAP","c":18,"u":6.342,"w":5.0},{"m":"GAP","c":18,"u":6.503,"w":3.4},{"m":"GAP","c":18,"u":6.663,"w":2.9},{"m":"GAP","c":18,"u":6.824,"w":2.4},{"m":"GAP","c":18,"u":7,"w":0}
]
},
"spacing":18,
"vconcat":[
{
"width":460,"height":304,
"view":{"stroke":null},
"title":{"text":"0.0%","font":"Liberation Sans","fontSize":17.5,"fontWeight":"normal","offset":-11,"dx":7.5,"color":"#000"},
"data":{"name":"a"},
"encoding":{"x":{"field":"u","type":"quantitative","scale":{"domain":[0,1,2,3,4,5,6,7],"range":[15.6,90.6,165.6,252,312.6,356.6,399,459.3],"nice":false,"zero":false},"axis":{"values":[0,1,2,3,4,5,6,7],"labelExpr":"['H','P','Γ','H','N','P','N','Γ'][datum.value]","labelFont":"Liberation Sans","labelFontSize":18,"labelPadding":12,"labelFlush":false,"labelOverlap":false,"labelAngle":0,"labelAlign":{"condition":{"test":"datum.value == 7","value":"right"},"value":"center"},"title":null}}},
"layer":[
{"data":{"values":[{"u":0},{"u":1},{"u":2},{"u":3},{"u":4},{"u":5},{"u":6},{"u":7}]},"mark":{"type":"rule","color":"#222","strokeWidth":1},"encoding":{}},
{"encoding":{
"y":{"field":"w","type":"quantitative","scale":{"domain":[0,350],"nice":false},"axis":{"values":[0,50,100,150,200,250,300,350],"offset":-15.6,"labelFont":"Liberation Serif","labelFontSize":22,"labelPadding":4,"title":"ω (cm⁻¹)","titleFont":"Liberation Sans","titleFontSize":26,"titleFontWeight":"normal","titlePadding":6.3}},
"color":{"field":"m","type":"nominal","scale":{"domain":["DFT","GAP"],"range":["#ff8c00","#0000ff"]},"legend":{"orient":"none","legendX":25.3,"legendY":236.7,"title":null,"symbolType":"stroke","symbolStrokeWidth":2,"symbolSize":700,"labelFont":"Liberation Sans","labelFontSize":18,"labelColor":"#000","labelOffset":20,"padding":5,"symbolOffset":8,"rowPadding":0,"clipHeight":24,"strokeColor":"#000","fillColor":"#fff","cornerRadius":0}},
"detail":{"field":"c"}},
"resolve":{"axis":{"y":"independent"}},
"layer":[
{"data":{"values":[{"u":0,"u2":7,"w":0},{"u":0,"u2":7,"w":350}]},"mark":{"type":"rule","strokeWidth":1},"encoding":{"x2":{"field":"u2"},"color":{"value":"#222"},"y":{"field":"w","type":"quantitative","axis":null}}},
{"transform":[{"filter":"datum.m=='DFT'"}],"mark":{"type":"line","interpolate":"monotone","strokeWidth":2},"encoding":{}},
{"transform":[{"filter":"datum.m=='GAP'"}],"mark":{"type":"line","interpolate":"monotone","strokeWidth":2},"encoding":{"y":{"field":"w","type":"quantitative","axis":{"orient":"right","values":[50,100,150,200,250,300],"labels":false,"ticks":true,"tickSize":4,"tickColor":"#222","tickWidth":1,"domain":false,"grid":false,"title":null}}}}
]}
]
},
{
"spacing":13,
"vconcat":[
{
"width":460,"height":310,
"view":{"stroke":null},
"title":{"text":"3.0%","font":"Liberation Sans","fontSize":17.5,"fontWeight":"normal","offset":-10.7,"dx":4.8,"color":"#000"},
"data":{"name":"b"},
"encoding":{"x":{"field":"u","type":"quantitative","scale":{"domain":[0,1,2,3,4,5,6,7],"range":[9.6,86,161.6,249.3,311.3,355.3,398.6,460],"nice":false,"zero":false},"axis":{"values":[0,1,2,3,4,5,6,7],"labelExpr":"['H','P','Γ','H','N','P','N','Γ'][datum.value]","labelFont":"Liberation Sans","labelFontSize":18,"labelPadding":12,"labelFlush":false,"labelOverlap":false,"labelAngle":0,"labelAlign":{"condition":{"test":"datum.value == 7","value":"right"},"value":"center"},"title":null}}},
"layer":[
{"data":{"values":[{"u":0},{"u":1},{"u":2},{"u":3},{"u":4},{"u":5},{"u":6},{"u":7}]},"mark":{"type":"rule","color":"#222","strokeWidth":1},"encoding":{}},
{"encoding":{
"y":{"field":"w","type":"quantitative","scale":{"domain":[0,350],"nice":false},"axis":{"values":[0,50,100,150,200,250,300,350],"offset":-9.6,"labelFont":"Liberation Serif","labelFontSize":22,"labelPadding":4,"title":"ω (cm⁻¹)","titleFont":"Liberation Sans","titleFontSize":26,"titleFontWeight":"normal","titlePadding":2.3}},
"color":{"field":"m","type":"nominal","scale":{"domain":["DFT","GAP"],"range":["#ff8c00","#0000ff"]},"legend":{"orient":"none","legendX":19.6,"legendY":242.4,"title":null,"symbolType":"stroke","symbolStrokeWidth":2,"symbolSize":700,"labelFont":"Liberation Sans","labelFontSize":18,"labelColor":"#000","labelOffset":20,"padding":5,"symbolOffset":8,"rowPadding":0,"clipHeight":24,"strokeColor":"#000","fillColor":"#fff","cornerRadius":0}},
"detail":{"field":"c"}},
"resolve":{"axis":{"y":"independent"}},
"layer":[
{"data":{"values":[{"u":0,"u2":7,"w":0},{"u":0,"u2":7,"w":350}]},"mark":{"type":"rule","strokeWidth":1},"encoding":{"x2":{"field":"u2"},"color":{"value":"#222"},"y":{"field":"w","type":"quantitative","axis":null}}},
{"transform":[{"filter":"datum.m=='DFT'"}],"mark":{"type":"line","interpolate":"monotone","strokeWidth":2},"encoding":{}},
{"transform":[{"filter":"datum.m=='GAP'"}],"mark":{"type":"line","interpolate":"monotone","strokeWidth":2},"encoding":{"y":{"field":"w","type":"quantitative","axis":{"orient":"right","values":[50,100,150,200,250,300],"labels":false,"ticks":true,"tickSize":4,"tickColor":"#222","tickWidth":1,"domain":false,"grid":false,"title":null}}}}
]}
]
},
{
"width":460,"height":310.5,
"title":{"text":"SOFTENING 0.0 → 3.0%","font":"Liberation Sans","fontSize":19,"fontWeight":"normal","offset":-10.3,"color":"#000"},
"data":{"name":"c"},
"encoding":{"x":{"field":"u","type":"quantitative","scale":{"domain":[0,1,2,3,4,5,6,7],"range":[0,77,155,244.6,308.6,352.6,397.6,460],"nice":false,"zero":false},"axis":{"values":[0,1,2,3,4,5,6,7],"labelExpr":"['H','P','Γ','H','N','P','N','Γ'][datum.value]","labelFont":"Liberation Sans","labelFontSize":18,"labelPadding":12,"labelFlush":false,"labelOverlap":false,"labelAngle":0,"labelAlign":{"condition":{"test":"datum.value == 7","value":"right"},"value":"center"},"title":"BZ","titleFont":"Liberation Sans","titleFontSize":22,"titleFontWeight":"normal","titlePadding":2}}},
"layer":[
{"data":{"values":[{"u":1},{"u":2},{"u":3},{"u":4},{"u":5},{"u":6}]},"mark":{"type":"rule","color":"#222","strokeWidth":1},"encoding":{}},
{"encoding":{
"y":{"field":"w","type":"quantitative","scale":{"domain":[0,30],"nice":false},"axis":{"values":[0,5,10,15,20,25,30],"labelFont":"Liberation Serif","labelFontSize":22,"labelPadding":4,"title":"Δω (cm⁻¹)","titleFont":"Liberation Sans","titleFontSize":26,"titleFontWeight":"normal","titlePadding":5.7}},
"color":{"field":"m","type":"nominal","scale":{"domain":["DFT","GAP"],"range":["#ff8c00","#0000ff"]},"legend":{"orient":"none","legendX":9.3,"legendY":9,"title":null,"symbolType":"stroke","symbolStrokeWidth":2,"symbolSize":700,"labelFont":"Liberation Sans","labelFontSize":18,"labelColor":"#000","labelOffset":20,"padding":5,"symbolOffset":8,"rowPadding":0,"clipHeight":24,"strokeColor":"#000","fillColor":"#fff","cornerRadius":0}},
"detail":{"field":"c"}},
"resolve":{"axis":{"y":"independent"}},
"layer":[
{"transform":[{"filter":"datum.m=='DFT'"}],"mark":{"type":"line","interpolate":"monotone","strokeWidth":2},"encoding":{}},
{"transform":[{"filter":"datum.m=='GAP'"}],"mark":{"type":"line","interpolate":"monotone","strokeWidth":2},"encoding":{"y":{"field":"w","type":"quantitative","axis":{"orient":"right","values":[5,10,15,20,25],"labels":false,"ticks":true,"tickSize":4,"tickColor":"#222","tickWidth":1,"domain":false,"grid":false,"title":null}}}}
]}
]
}
]
}
]
}
